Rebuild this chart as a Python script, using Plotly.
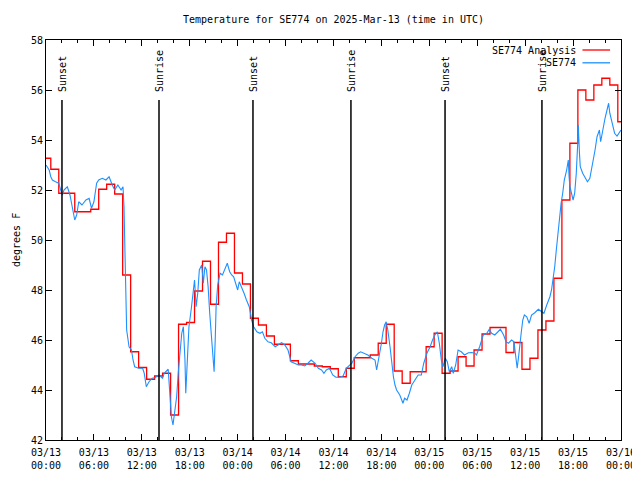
import pandas as pd
import plotly.graph_objects as go

# ---------------- data ----------------
base_time = "2025-03-13 00:00"

# SE774 observations: hours since 03/13 00:00 UTC and temperature (F)
blue_hours = [0.0, 0.4, 0.6, 0.8, 1.2, 1.6, 1.84, 2.05, 2.25, 2.67, 3.0, 3.3, 3.6, 3.84, 4.1, 4.5, 5.0, 5.4, 5.7, 6.0,
              6.34, 6.6, 7.05, 7.5, 7.9, 8.3, 8.6, 9.0, 9.4, 9.64, 9.77, 9.9, 10.0, 10.1, 10.4, 10.7, 10.9, 11.1, 11.6, 12.1,
              12.3, 12.56, 12.9, 13.3, 13.7, 14.15, 14.6, 14.8, 15.3, 15.5, 15.7, 15.9, 16.15, 16.36, 16.57, 16.8, 17.0, 17.2, 17.4, 17.5,
              17.7, 17.9, 18.2, 18.4, 18.6, 18.8, 19.0, 19.2, 19.5, 19.7, 19.9, 20.1, 20.3, 20.5, 20.7, 20.9, 21.05, 21.2, 21.3, 21.5,
              21.8, 22.1, 22.4, 22.7, 23.0, 23.25, 23.5, 23.8, 24.0, 24.2, 24.5, 24.8, 25.1, 25.45, 25.75, 26.0, 26.4, 26.8, 27.1, 27.4,
              27.8, 28.2, 28.7, 29.1, 29.5, 29.9, 30.3, 30.7, 31.1, 31.6, 32.0, 32.4, 32.8, 33.2, 33.7, 34.1, 34.5, 34.8, 35.1, 35.5,
              35.9, 36.3, 36.7, 37.2, 37.6, 37.98, 38.3, 38.7, 39.1, 39.4, 39.9, 40.3, 40.8, 41.2, 41.4, 41.6, 41.8, 42.0, 42.2, 42.4,
              42.6, 42.8, 43.1, 43.3, 43.5, 43.7, 43.9, 44.3, 44.5, 44.7, 44.9, 45.2, 45.5, 45.8, 46.2, 46.6, 47.0, 47.3, 47.7, 48.1,
              48.4, 48.7, 49.0, 49.25, 49.5, 49.7, 50.0, 50.25, 50.5, 50.8, 51.0, 51.3, 51.6, 52.0, 52.4, 52.9, 53.3, 53.7, 53.9, 54.3,
              54.75, 55.2, 55.5, 55.8, 56.2, 56.6, 56.9, 57.3, 57.6, 57.9, 58.3, 58.6, 58.8, 59.0, 59.2, 59.3, 59.5, 59.7, 59.9, 60.2,
              60.5, 60.8, 61.2, 61.65, 62.1, 62.35, 62.7, 63.1, 63.3, 63.5, 63.7, 63.9, 64.1, 64.3, 64.5, 64.7, 64.9, 65.2, 65.4, 65.5,
              65.6, 65.8, 66.0, 66.2, 66.4, 66.6, 66.65, 66.8, 66.9, 67.2, 67.5, 67.8, 68.1, 68.4, 68.75, 69.0, 69.3, 69.45, 69.7, 70.0,
              70.3, 70.45, 70.6, 70.95, 71.2, 71.5, 71.8, 72.0]
blue_temps = [53.0, 52.8, 52.53, 52.4, 52.33, 52.27, 52.0, 51.8, 52.0, 52.13, 51.8, 51.33, 50.8, 51.0, 51.53, 51.4, 51.6, 51.67, 51.27, 51.53,
              52.27, 52.4, 52.47, 52.4, 52.53, 52.2, 52.0, 52.2, 52.0, 52.13, 51.33, 49.33, 47.87, 46.4, 45.73, 45.6, 45.2, 44.93, 44.87, 44.87,
              44.67, 44.13, 44.33, 44.47, 44.5, 44.6, 44.47, 44.67, 44.83, 43.73, 42.93, 42.6, 43.33, 43.73, 44.73, 45.47, 46.27, 46.53, 45.2, 43.87,
              45.2, 46.53, 47.27, 47.8, 48.4, 47.33, 47.87, 48.8, 49.0, 48.27, 48.93, 48.8, 48.13, 47.07, 46.13, 45.47, 44.73, 46.13, 47.33, 48.2,
              48.67, 48.6, 48.87, 49.07, 48.73, 48.6, 48.53, 48.2, 48.0, 48.33, 48.13, 47.87, 47.6, 47.33, 46.8, 46.53, 46.33, 46.27, 46.33, 46.07,
              45.93, 45.89, 45.73, 45.8, 45.89, 45.8, 45.6, 45.13, 45.07, 45.0, 45.0, 44.96, 45.07, 45.2, 45.07, 44.87, 44.8, 44.67, 44.8, 44.87,
              44.6, 44.51, 44.51, 44.56, 44.87, 45.0, 45.07, 45.33, 45.47, 45.53, 45.44, 45.4, 45.27, 45.2, 44.8, 45.13, 45.4, 45.87, 46.33, 46.6,
              46.73, 46.4, 45.67, 45.0, 44.53, 44.2, 44.0, 43.8, 43.6, 43.47, 43.67, 43.6, 43.87, 44.2, 44.4, 44.6, 44.6, 45.07, 45.47, 45.73,
              46.0, 46.2, 46.33, 45.87, 45.2, 44.93, 45.27, 45.13, 44.73, 44.93, 44.67, 45.0, 45.6, 45.53, 45.4, 45.49, 45.5, 45.47, 45.4, 45.73,
              46.2, 46.27, 46.43, 46.27, 46.2, 46.33, 46.43, 46.2, 45.93, 45.87, 46.0, 45.93, 45.4, 44.87, 45.4, 45.8, 46.27, 46.8, 47.0, 46.93,
              46.67, 47.0, 47.09, 47.23, 47.13, 47.07, 47.4, 47.73, 48.0, 48.4, 48.93, 49.6, 50.27, 50.93, 51.47, 51.87, 52.4, 52.8, 53.2, 52.53,
              52.13, 51.87, 51.6, 51.87, 52.67, 54.0, 54.6, 53.47, 52.93, 52.67, 52.47, 52.33, 52.47, 52.93, 53.6, 54.13, 54.4, 53.93, 54.4, 54.87,
              55.27, 55.47, 55.07, 54.6, 54.27, 54.16, 54.33, 54.4]

# SE774 Analysis: hourly step values, first step starting 03/12 23:36 UTC
red_start = "2025-03-12 23:36"
red_temps = [53.27, 52.83, 51.87, 51.87, 51.13, 51.13, 51.23, 52.03, 52.23, 51.84,
             48.6, 45.53, 44.9, 44.43, 44.56, 44.67, 43.0, 46.63, 46.7, 47.96,
             49.15, 47.43, 49.91, 50.27, 48.68, 48.24, 46.87, 46.6, 46.16, 45.83,
             45.83, 45.17, 45.04, 45.04, 44.96, 44.93, 44.85, 44.53, 44.87, 45.29,
             45.29, 45.4, 45.87, 46.63, 44.76, 44.27, 44.73, 44.73, 45.73, 46.27,
             44.67, 44.76, 45.33, 44.96, 45.6, 46.24, 46.5, 46.5, 45.5, 45.9,
             44.83, 45.27, 46.4, 46.76, 48.47, 51.6, 53.87, 56.0, 55.6, 56.2,
             56.47, 56.2, 54.73, 54.73]

sun_labels = ["Sunset", "Sunrise", "Sunset", "Sunrise", "Sunset", "Sunrise"]
sun_times = ["2025-03-13 02:00", "2025-03-13 14:09", "2025-03-14 01:55",
             "2025-03-14 14:11", "2025-03-15 01:58", "2025-03-15 14:06"]

tick_labels = ["03/13<br>00:00", "03/13<br>06:00", "03/13<br>12:00", "03/13<br>18:00",
               "03/14<br>00:00", "03/14<br>06:00", "03/14<br>12:00", "03/14<br>18:00",
               "03/15<br>00:00", "03/15<br>06:00", "03/15<br>12:00", "03/15<br>18:00",
               "03/16<br>00:00"]

series_names = ["SE774 Analysis", "SE774"]
series_colors = ["#ff0000", "#1e90ff"]

# ---------------- build ----------------
t0 = pd.Timestamp(base_time)
blue_times = t0 + pd.to_timedelta(blue_hours, unit="h")
red_times = pd.date_range(red_start, periods=len(red_temps), freq="h")
tick_vals = pd.date_range(t0, periods=len(tick_labels), freq="6h")
x_end = tick_vals[-1]

FONT = "DejaVu Sans Mono"
FS = 10
# page body has an 8px margin, so the figure is 632x472 and shifted by 8px
W, H = 632, 472

fig = go.Figure()
fig.add_trace(go.Scatter(x=red_times, y=red_temps, mode="lines", line_shape="hv",
                         line=dict(color=series_colors[0], width=1.3),
                         name=series_names[0], showlegend=False))
fig.add_trace(go.Scatter(x=blue_times, y=blue_temps, mode="lines",
                         line=dict(color=series_colors[1], width=1.1),
                         name=series_names[1], showlegend=False))

shapes = []
annotations = []
for lab, t in zip(sun_labels, sun_times):
    shapes.append(dict(type="line", xref="x", yref="paper", x0=t, x1=t, y0=0, y1=0.85,
                       line=dict(color="black", width=1.5)))
    annotations.append(dict(x=t, y=0.865, xref="x", yref="paper", text=lab, showarrow=False,
                            textangle=-90, xanchor="center", yanchor="bottom",
                            font=dict(family=FONT, size=FS, color="black")))

# gnuplot-style legend (text right-aligned, line sample after it)
leg_y = [0.975, 0.943]
for name, col, yy in zip(series_names, series_colors, leg_y):
    annotations.append(dict(x=0.926, y=yy, xref="paper", yref="paper", text=name, showarrow=False,
                            xanchor="right", yanchor="middle",
                            font=dict(family=FONT, size=FS, color="black")))
    shapes.append(dict(type="line", xref="paper", yref="paper", x0=0.933, x1=0.981, y0=yy, y1=yy,
                       line=dict(color=col, width=1.3)))

# y-axis label placed like gnuplot, left of tick labels
annotations.append(dict(x=-30 / 575, y=0.5, xref="paper", yref="paper", text="degrees F", showarrow=False,
                        textangle=-90, xanchor="center", yanchor="middle",
                        font=dict(family=FONT, size=FS, color="black")))

fig.update_layout(
    width=W, height=H, autosize=False,
    margin=dict(l=38, r=19, t=32, b=40, autoexpand=False),
    paper_bgcolor="white", plot_bgcolor="white",
    title=dict(text="Temperature for SE774 on 2025-Mar-13 (time in UTC)",
               x=0.5, xref="paper", xanchor="center", y=1 - 11 / H, yref="container", yanchor="middle",
               font=dict(family=FONT, size=FS, color="black")),
    font=dict(family=FONT, size=FS, color="black"),
    shapes=shapes, annotations=annotations,
    xaxis=dict(range=[t0, x_end], tickvals=tick_vals, ticktext=tick_labels, automargin=False,
               ticks="inside", ticklen=6, tickcolor="black", mirror="ticks", ticklabelstandoff=3,
               showline=True, linecolor="black", linewidth=1, showgrid=False, zeroline=False,
               minor=dict(dtick=2 * 3600000, tick0=t0, ticks="inside", ticklen=3, tickcolor="black"),
               tickfont=dict(family=FONT, size=FS, color="black")),
    yaxis=dict(range=[42, 58], dtick=2, tick0=42, ticks="inside", ticklen=6, tickcolor="black",
               mirror="ticks", showline=True, linecolor="black", linewidth=1, automargin=False,
               showgrid=False, zeroline=False,
               tickfont=dict(family=FONT, size=FS, color="black")),
)

fig.write_html("out.html")
